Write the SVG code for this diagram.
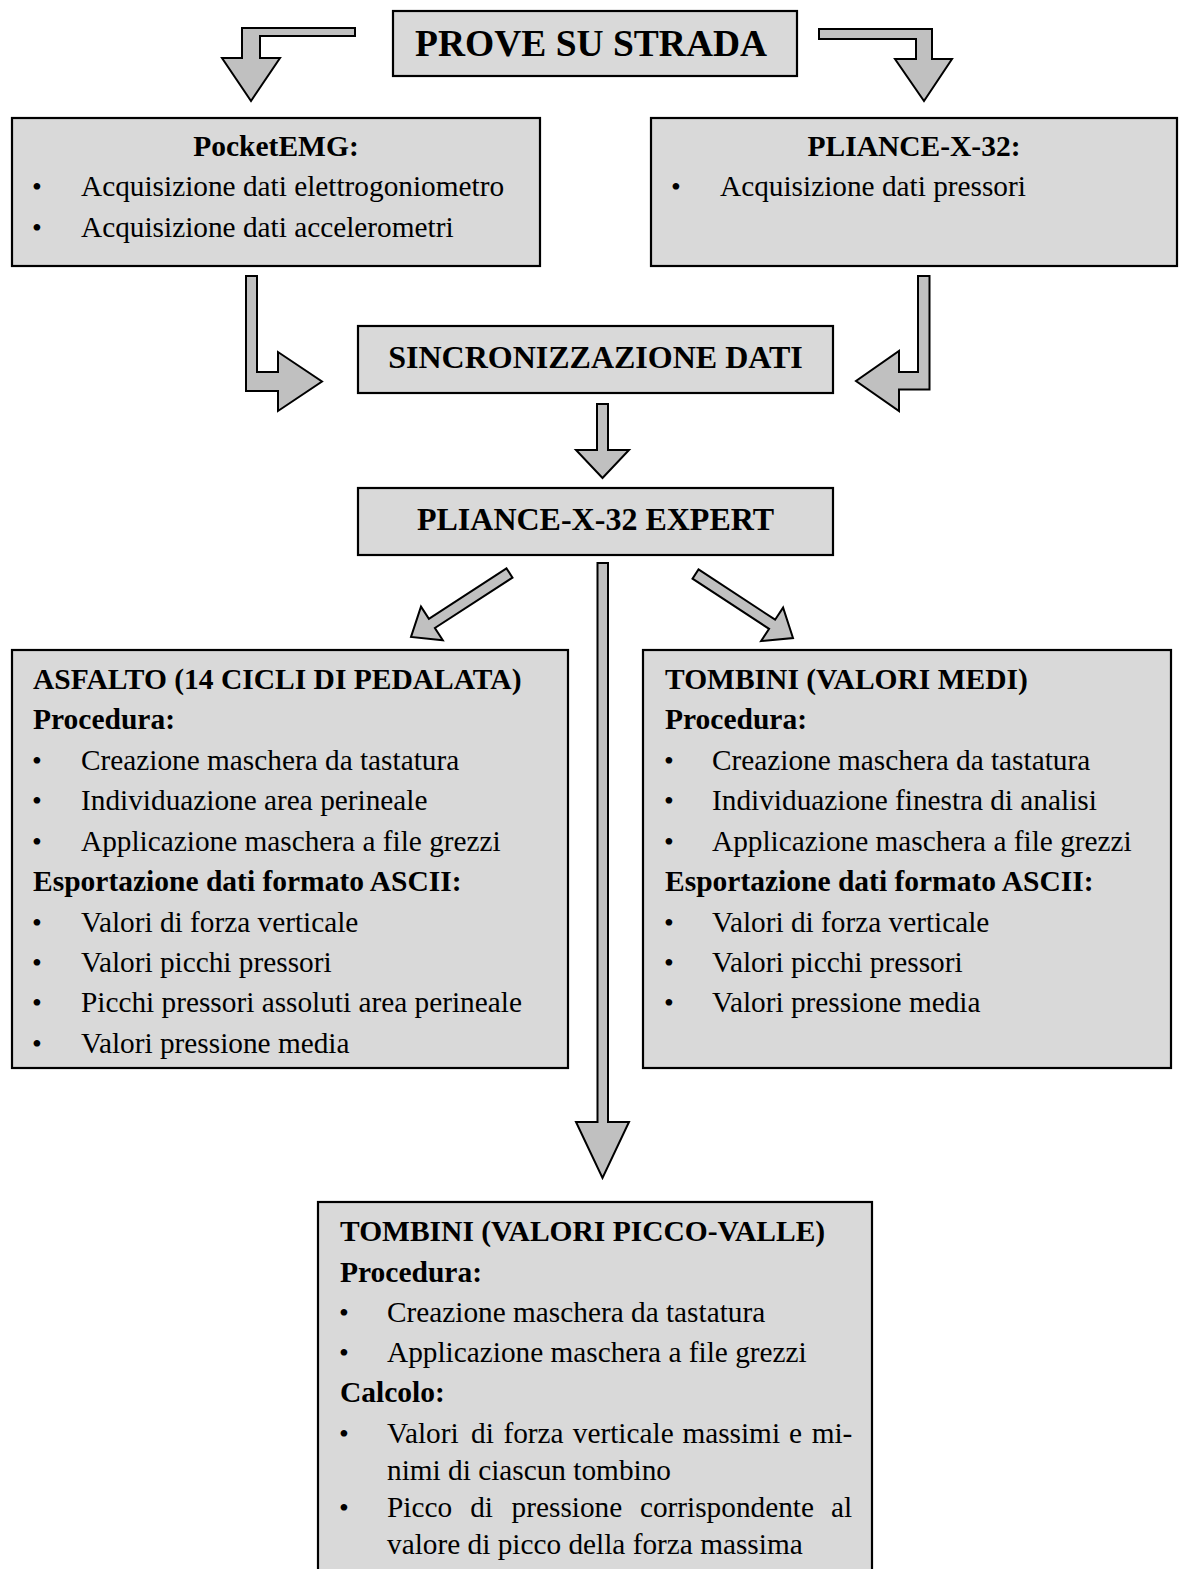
<svg xmlns="http://www.w3.org/2000/svg" width="1179" height="1569" viewBox="0 0 1179 1569">
  <style>
    .box { fill: #d9d9d9; stroke: #000; stroke-width: 2.2; }
    .arrow { fill: #c0c0c0; stroke: #000; stroke-width: 2; stroke-linejoin: miter; }
    text { font-family: "Liberation Serif", "Times New Roman", serif; fill: #000; }
    .title { font-size: 37.5px; font-weight: bold; }
    .big { font-size: 32px; font-weight: bold; }
    .head { font-size: 29.5px; font-weight: bold; }
    .item { font-size: 29.3px; }
    .bul { font-size: 28px; text-anchor: middle; }
    .mid { text-anchor: middle; }
  </style>
  <rect width="1179" height="1569" fill="#fff"/>

  <!-- connectors: block arrows -->
  <g id="connectors">
    <polygon class="arrow" points="242,28 355,28 355,36 260,36 260,58 280,58 251,101 222,58 242,58"/>
    <polygon class="arrow" points="819,29 932,29 932,59 952,59 924,101 895,59 916,59 916,39 819,39"/>
    <polygon class="arrow" points="246,276 257,276 257,372 278,372 278,352 322,381.5 278,411 278,391 246,391"/>
    <polygon class="arrow" points="918,276 929.5,276 929.5,389.5 899,389.5 899,411 856,381 899,351 899,372 918,372"/>
    <polygon class="arrow" points="597,404 608,404 608,450 629,450 602.5,478 576,450 597,450"/>
    <polygon class="arrow" points="506.5,568.4 428.9,618.8 421,606.6 411,637 442.8,640.2 434.9,628 512.5,577.6"/>
    <polygon class="arrow" points="698.5,569.4 775.1,619.7 783.1,607.6 793,638 761.1,641 769.1,628.9 692.5,578.6"/>
    <polygon class="arrow" points="597.5,563 608,563 608,1122 629,1122 602.5,1178 576,1122 597.5,1122"/>
  </g>

  <g id="prove">
    <rect class="box" x="393" y="11" width="404" height="65"/>
    <text class="title" x="415" y="56">PROVE SU STRADA</text>
  </g>

  <g id="pocketemg">
    <rect class="box" x="12" y="118" width="528" height="148"/>
    <text class="head mid" x="276" y="156">PocketEMG:</text>
    <text class="bul" x="37" y="196">•</text>
    <text class="item" x="81" y="196">Acquisizione dati elettrogoniometro</text>
    <text class="bul" x="37" y="237">•</text>
    <text class="item" x="81" y="237">Acquisizione dati accelerometri</text>
  </g>

  <g id="pliance">
    <rect class="box" x="651" y="118" width="526" height="148"/>
    <text class="head mid" x="914" y="156">PLIANCE-X-32:</text>
    <text class="bul" x="676" y="196">•</text>
    <text class="item" x="720" y="196">Acquisizione dati pressori</text>
  </g>

  <g id="sincronizzazione">
    <rect class="box" x="358" y="326" width="475" height="67"/>
    <text class="big mid" x="595.5" y="368">SINCRONIZZAZIONE DATI</text>
  </g>

  <g id="expert">
    <rect class="box" x="358" y="488" width="475" height="67"/>
    <text class="big mid" x="595.5" y="530">PLIANCE-X-32 EXPERT</text>
  </g>

  <g id="asfalto">
    <rect class="box" x="12" y="650" width="556" height="418"/>
    <text class="head" x="33" y="689">ASFALTO (14 CICLI DI PEDALATA)</text>
    <text class="head" x="33" y="729">Procedura:</text>
    <text class="bul" x="37" y="770">•</text>
    <text class="item" x="81" y="770">Creazione maschera da tastatura</text>
    <text class="bul" x="37" y="810">•</text>
    <text class="item" x="81" y="810">Individuazione area perineale</text>
    <text class="bul" x="37" y="851">•</text>
    <text class="item" x="81" y="851">Applicazione maschera a file grezzi</text>
    <text class="head" x="33" y="891">Esportazione dati formato ASCII:</text>
    <text class="bul" x="37" y="932">•</text>
    <text class="item" x="81" y="932">Valori di forza verticale</text>
    <text class="bul" x="37" y="972">•</text>
    <text class="item" x="81" y="972">Valori picchi pressori</text>
    <text class="bul" x="37" y="1012">•</text>
    <text class="item" x="81" y="1012">Picchi pressori assoluti area perineale</text>
    <text class="bul" x="37" y="1053">•</text>
    <text class="item" x="81" y="1053">Valori pressione media</text>
  </g>

  <g id="tombini-medi">
    <rect class="box" x="643" y="650" width="528" height="418"/>
    <text class="head" x="665" y="689">TOMBINI (VALORI MEDI)</text>
    <text class="head" x="665" y="729">Procedura:</text>
    <text class="bul" x="669" y="770">•</text>
    <text class="item" x="712" y="770">Creazione maschera da tastatura</text>
    <text class="bul" x="669" y="810">•</text>
    <text class="item" x="712" y="810">Individuazione finestra di analisi</text>
    <text class="bul" x="669" y="851">•</text>
    <text class="item" x="712" y="851">Applicazione maschera a file grezzi</text>
    <text class="head" x="665" y="891">Esportazione dati formato ASCII:</text>
    <text class="bul" x="669" y="932">•</text>
    <text class="item" x="712" y="932">Valori di forza verticale</text>
    <text class="bul" x="669" y="972">•</text>
    <text class="item" x="712" y="972">Valori picchi pressori</text>
    <text class="bul" x="669" y="1012">•</text>
    <text class="item" x="712" y="1012">Valori pressione media</text>
  </g>

  <g id="tombini-picco-valle">
    <rect class="box" x="318" y="1202" width="554" height="390"/>
    <text class="head" x="340" y="1241">TOMBINI (VALORI PICCO-VALLE)</text>
    <text class="head" x="340" y="1282">Procedura:</text>
    <text class="bul" x="344" y="1322">•</text>
    <text class="item" x="387" y="1322">Creazione maschera da tastatura</text>
    <text class="bul" x="344" y="1362">•</text>
    <text class="item" x="387" y="1362">Applicazione maschera a file grezzi</text>
    <text class="head" x="340" y="1402">Calcolo:</text>
    <text class="bul" x="344" y="1443">•</text>
    <text class="item" y="1443"><tspan x="387">Valori</tspan><tspan x="471">di</tspan><tspan x="503.4">forza</tspan><tspan x="572.8">verticale</tspan><tspan x="682.4">massimi</tspan><tspan x="789">e</tspan><tspan x="811.7">mi-</tspan></text>
    <text class="item" x="387" y="1480">nimi di ciascun tombino</text>
    <text class="bul" x="344" y="1517">•</text>
    <text class="item" y="1517"><tspan x="387">Picco</tspan><tspan x="470.2">di</tspan><tspan x="511.6">pressione</tspan><tspan x="639.9">corrispondente</tspan><tspan x="831">al</tspan></text>
    <text class="item" x="387" y="1554">valore di picco della forza massima</text>
  </g>
</svg>
